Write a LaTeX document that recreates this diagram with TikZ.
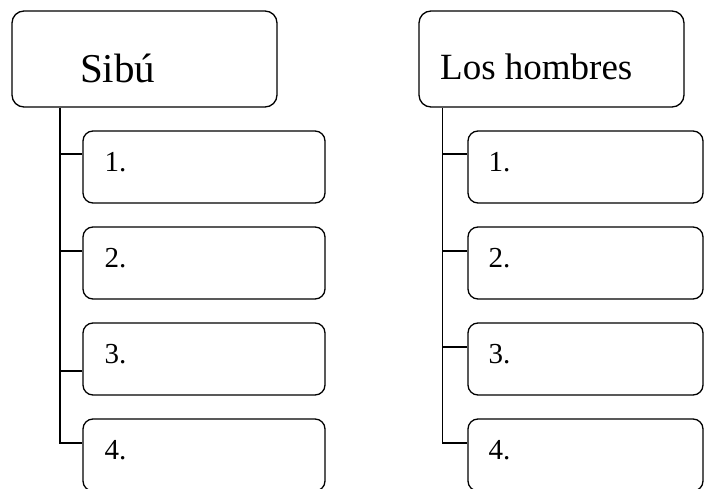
\documentclass[tikz,border=0pt]{standalone}
\usepackage{fontspec}
\setmainfont{Liberation Serif}
\usetikzlibrary{positioning, calc}

\begin{document}
\begin{tikzpicture}[
    x=1pt, y=-1pt,
    every node/.style={inner sep=0pt},
    head/.style={draw, line width=1.3pt, rounded corners=12pt,
                 minimum width=265pt, minimum height=96pt},
    item/.style={draw, line width=1.3pt, rounded corners=10pt,
                 minimum height=72pt},
    num/.style={font=\fontsize{29}{34}\selectfont, anchor=base west},
    link/.style={line width=1.3pt},
]
\useasboundingbox (0,0) rectangle (704,489);

% --- левая колонка: Sibú ---------------------------------------------
\node[head] (sibu) at (144.5,59) {};
\node[anchor=base west, font=\fontsize{41}{48}\selectfont] (sibuT) at (80,83) {Sibú};

\node[item, minimum width=242pt] (l1) at (204,167) {};
\node[item, minimum width=242pt] (l2) at (204,263) {};
\node[item, minimum width=242pt] (l3) at (204,359) {};
\node[item, minimum width=242pt] (l4) at (204,455) {};

\node[num] at ($(l1.west)+(22,5)$) {1.};
\node[num] at ($(l2.west)+(22,4)$) {2.};
\node[num] at ($(l3.west)+(22,4)$) {3.};
\node[num] at ($(l4.west)+(22,4)$) {4.};

% ствол и ветки
\coordinate (lTop) at ($(sibu.south west)+(48.5,0)$);
\coordinate (lEnd) at (lTop |- 0,443);
\draw[link] (lTop) -- (lEnd) -- (lEnd -| l4.west);
\draw[link] (lTop |- 0,154) -- (l1.west |- 0,154);
\draw[link] (lTop |- 0,251) -- (l2.west |- 0,251);
\draw[link] (lTop |- 0,371) -- (l3.west |- 0,371);

% --- правая колонка: Los hombres -------------------------------------
\node[head] (homb) at (551.5,59) {};
\node[anchor=base west, font=\fontsize{37}{44}\selectfont] (hombT) at (440,80) {Los hombres};

\node[item, minimum width=235pt] (r1) at (585.5,167) {};
\node[item, minimum width=235pt] (r2) at (585.5,263) {};
\node[item, minimum width=235pt] (r3) at (585.5,359) {};
\node[item, minimum width=235pt] (r4) at (585.5,455) {};

\node[num] at ($(r1.west)+(21,5)$) {1.};
\node[num] at ($(r2.west)+(21,4)$) {2.};
\node[num] at ($(r3.west)+(21,4)$) {3.};
\node[num] at ($(r4.west)+(21,4)$) {4.};

\coordinate (rTop) at ($(homb.south west)+(24,0)$);
\coordinate (rEnd) at (rTop |- 0,443);
\draw[link] (rTop) -- (rEnd) -- (rEnd -| r4.west);
\draw[link] (rTop |- 0,154) -- (r1.west |- 0,154);
\draw[link] (rTop |- 0,251) -- (r2.west |- 0,251);
\draw[link] (rTop |- 0,347) -- (r3.west |- 0,347);

\end{tikzpicture}
\end{document}
